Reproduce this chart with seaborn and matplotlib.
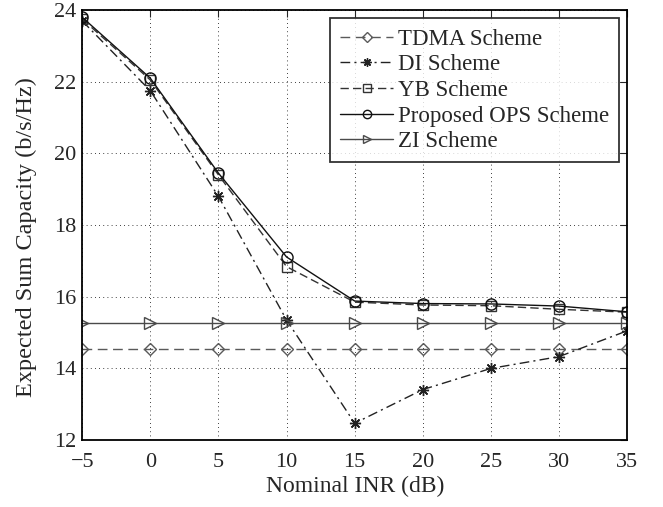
import numpy as np
import pandas as pd
import matplotlib
matplotlib.use("Agg")
import matplotlib.pyplot as plt
import seaborn as sns

# data
inr_db = [-5, 0, 5, 10, 15, 20, 25, 30, 35]
tdma = [14.55, 14.55, 14.55, 14.55, 14.55, 14.55, 14.55, 14.55, 14.55]
di = [23.7, 21.75, 18.8, 15.35, 12.47, 13.41, 14.0, 14.33, 15.05]
yb = [23.75, 22.05, 19.4, 16.84, 15.85, 15.77, 15.75, 15.65, 15.57]
ops = [23.8, 22.1, 19.45, 17.11, 15.88, 15.81, 15.8, 15.74, 15.58]
zi = [15.27, 15.27, 15.27, 15.27, 15.27, 15.27, 15.27, 15.27, 15.27]

sns.set_style("white")
plt.rcParams['font.family'] = ['Liberation Serif', 'DejaVu Serif']

fig = plt.figure(figsize=(6.63, 5.07), dpi=100)
ax = fig.add_axes([0.124, 0.132, 0.822, 0.848])

# 1. draw each scheme
series = [
  ('TDMA Scheme', tdma, '#5a5a5a', (0, (7, 4)), 'D', 6.5),
  ('DI Scheme', di, '#222222', (0, (7, 3, 1.5, 3)), (8, 2, 0), 8),
  ('YB Scheme', yb, '#333333', (0, (6, 3)), 's', 7),
  ('Proposed OPS Scheme', ops, '#111111', '-', 'o', 8),
  ('ZI Scheme', zi, '#4a4a4a', '-', '>', 8.5),
]
for name, vals, col, ls, mk, ms in series:
  sns.lineplot(x=inr_db, y=vals, ax=ax, color=col, linestyle=ls, marker=mk,
               markersize=ms, markerfacecolor='none',
               markeredgecolor=col, markeredgewidth=1.0, linewidth=1.0, label=name)

ax.set_xlim(-5, 35)
ax.set_ylim(12, 24)
ax.set_xticks(np.arange(-5, 36, 5))
ax.set_yticks(np.arange(12, 25, 2))
ax.set_xticklabels(['\u22125'] + [str(v) for v in range(0, 36, 5)])
ax.grid(True, color='black', linestyle=(0, (1, 4)), linewidth=0.6)
ax.tick_params(direction='in', top=True, right=True, labelsize=16, length=5, width=0.8, pad=4)
ax.tick_params(axis='x', pad=9)
for sp in ax.spines.values():
  sp.set_linewidth(1.3)
  sp.set_color('black')

ax.set_xlabel('Nominal INR (dB)', fontsize=17, labelpad=3)
ax.set_ylabel('Expected Sum Capacity (b/s/Hz)', fontsize=17.5)
ax.yaxis.set_label_coords(-0.083, 0.472)

leg = ax.legend(loc='upper right', fontsize=16.5, frameon=True, fancybox=False,
                edgecolor='black', handlelength=2.3, handletextpad=0.2,
                borderpad=0.45, borderaxespad=0, labelspacing=0.2, markerscale=0.75,
                bbox_to_anchor=(0.985, 0.981))
leg.get_frame().set_linewidth(1.3)

fig.savefig('out.png', dpi=100)
